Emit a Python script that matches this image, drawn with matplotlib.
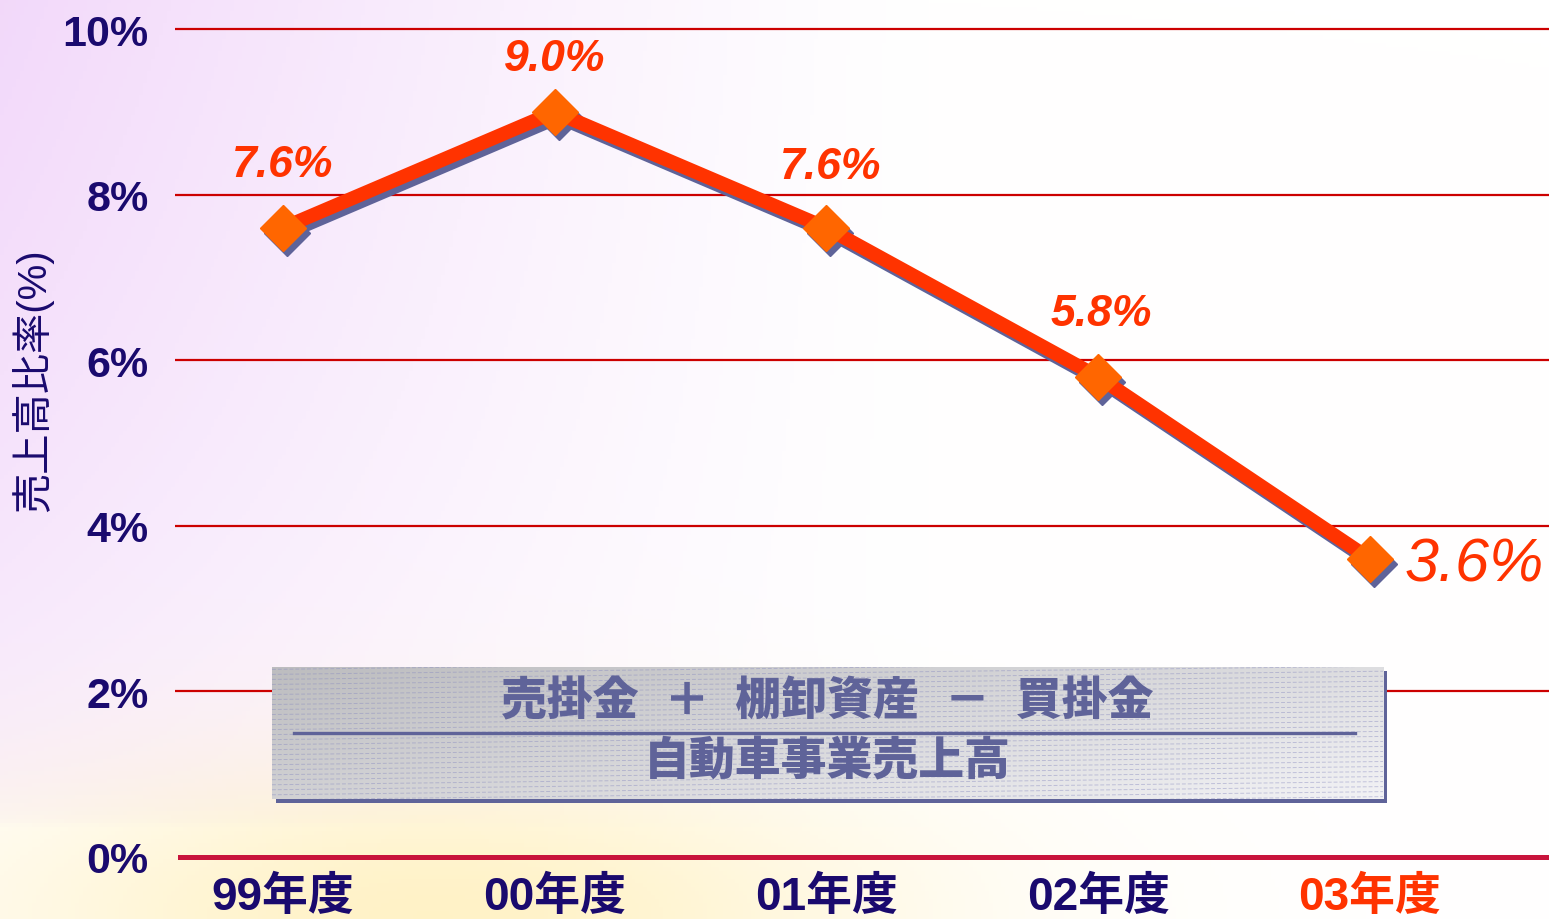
import matplotlib
matplotlib.use("Agg")
import matplotlib.pyplot as plt
import matplotlib.transforms as mtransforms
from matplotlib.patches import Rectangle
import numpy as np

# data
years = ["99年度", "00年度", "01年度", "02年度", "03年度"]
ratio = [7.6, 9.0, 7.6, 5.8, 3.6]
labels = ["7.6%", "9.0%", "7.6%", "5.8%", "3.6%"]
yticks = [0, 2, 4, 6, 8, 10]
ytick_labels = ["0%", "2%", "4%", "6%", "8%", "10%"]
ylabel = "売上高比率(%)"
box_top = "売掛金  ＋  棚卸資産  －  買掛金"
box_bottom = "自動車事業売上高"

NAVY = "#1a0a6e"
ORANGE_RED = "#ff3300"
MARKER = "#ff6600"
SHADOW = "#5f6399"
GRID = "#cc0000"
FONTS = ["Liberation Sans", "Noto Sans CJK JP"]

W, H = 1549, 920
fig = plt.figure(figsize=(W / 100, H / 100), dpi=100)

# soft background: pinkish lavender on the left, warm yellow at the bottom, white to the right
bg = fig.add_axes([0, 0, 1, 1], zorder=-10)
yy, xx = np.mgrid[0:1:230j, 0:1:390j]
img = np.ones((230, 390, 3))
purple = np.clip(1 - xx / 0.6, 0, 1) ** 1.2 * np.clip(1 - yy / 0.9, 0, 1) ** 0.4
yellow = np.exp(-((xx - 0.28) ** 2 / 0.09 + (yy - 1.0) ** 2 / 0.03))
img[..., 0] -= 0.05 * purple
img[..., 1] -= 0.15 * purple + 0.05 * yellow
img[..., 2] -= 0.02 * purple + 0.22 * yellow
bg.imshow(np.clip(img, 0, 1), extent=[0, 1, 0, 1], aspect="auto", origin="upper")
bg.axis("off")

left, right = 175 / W, 1.0
bottom, top = 1 - 858 / H, 1 - 12 / H
ax = fig.add_axes([left, bottom, right - left, top - bottom])
ax.patch.set_alpha(0)
x = np.arange(len(years))
ax.set_xlim(-0.397, 4.659)
ax.set_ylim(0, 10.22)

for s in ax.spines.values():
    s.set_visible(False)
for t in yticks[1:]:
    ax.axhline(t, color=GRID, lw=1.6, zorder=1)
ax.axhline(0, xmin=0.004, color="#c8143c", lw=3.6, zorder=1, clip_on=False)

ax.set_yticks(yticks)
ax.set_yticklabels(ytick_labels, fontsize=31, fontweight="bold", color=NAVY, family=FONTS)
ax.set_xticks(x)
ax.set_xticklabels(years, fontsize=33, fontweight="bold", color=NAVY, family=FONTS)
ax.get_xticklabels()[-1].set_color(ORANGE_RED)
ax.tick_params(axis="y", length=0, pad=19)
ax.tick_params(axis="x", length=0, pad=13)

# shadowed line with diamond markers
shadow = ax.transData + mtransforms.ScaledTranslation(4 / 100, -5 / 100, fig.dpi_scale_trans)
ax.plot(x, ratio, color=SHADOW, lw=10, marker="D", ms=23, mfc=SHADOW, mec=SHADOW,
        transform=shadow, zorder=3, solid_joinstyle="miter")
ax.plot(x, ratio, color=ORANGE_RED, lw=10, zorder=4, solid_joinstyle="miter")
ax.plot(x, ratio, ls="none", marker="D", ms=23, mfc=MARKER, mec=MARKER, zorder=5)

offsets = [(0, 63), (0, 53), (4, 61), (3, 63), (35, -6)]
for i, (val, lab) in enumerate(zip(ratio, labels)):
    dx, dy = offsets[i]
    big = i == len(ratio) - 1
    ax.annotate(lab, (x[i], val), xytext=(dx, dy), textcoords="offset pixels",
                ha="left" if big else "center", va="center",
                fontsize=44 if big else 32, fontstyle="italic",
                fontweight="normal" if big else "bold",
                color=ORANGE_RED, family=FONTS, zorder=6)

fig.text(32 / W, 1 - 380 / H, ylabel, rotation=90, ha="center", va="center",
         fontsize=29, color=NAVY, family=FONTS)

# formula box
bx0, by0, bw, bh = 272 / W, 1 - 800 / H, (1383 - 272) / W, (800 - 668) / H
fig.patches.append(Rectangle((bx0 + 4 / W, by0 - 4 / H), bw, bh, transform=fig.transFigure,
                             facecolor=SHADOW, edgecolor="none", zorder=7))
grad = fig.add_axes([bx0, by0, bw, bh], zorder=8)
gy, gx = np.mgrid[0:1:60j, 0:1:400j]
shade = 0.74 + 0.13 * gx + 0.08 * gy
gimg = np.dstack([shade, shade, shade + 0.01])
grad.imshow(np.clip(gimg, 0, 1), extent=[0, 1, 0, 1], aspect="auto", origin="upper")
for y0 in np.arange(-0.12, 1.0, 0.038):
    grad.plot([0, 1], [y0, y0 + 0.1], color="#8a8cc0", lw=0.7, alpha=0.45,
              dashes=(4, 2))
grad.set_xlim(0, 1)
grad.set_ylim(0, 1)
grad.axis("off")
grad.text(0.5, 0.73, box_top, ha="center", va="center", fontsize=33, fontweight="heavy",
          color=SHADOW, family=FONTS)
grad.plot([0.02, 0.975], [0.5, 0.5], color=SHADOW, lw=2.4)
grad.text(0.5, 0.28, box_bottom, ha="center", va="center", fontsize=33, fontweight="heavy",
          color=SHADOW, family=FONTS)

fig.savefig("out.png", dpi=100)
